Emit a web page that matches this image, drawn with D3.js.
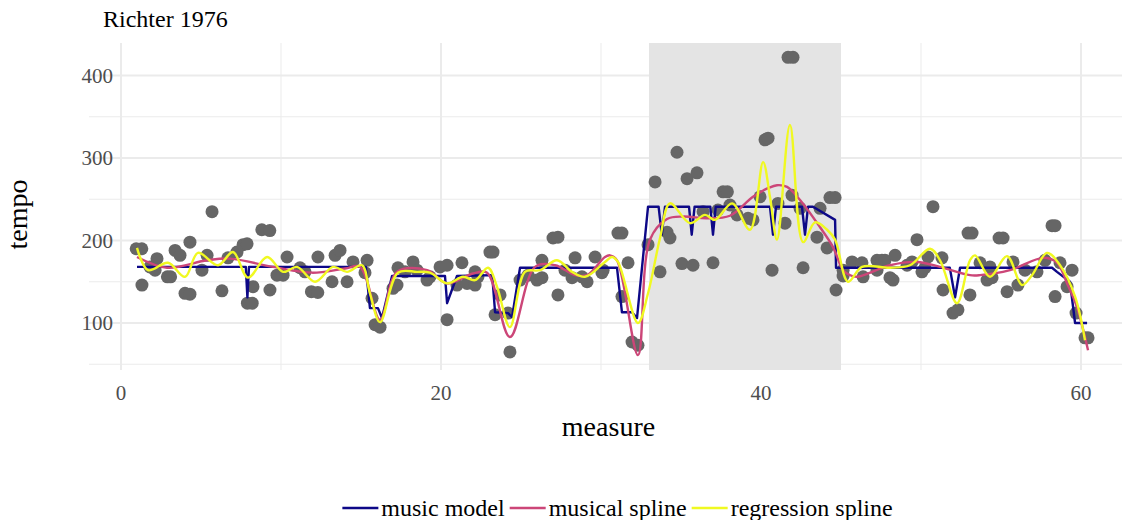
<!DOCTYPE html>
<html>
<head>
<meta charset="utf-8">
<script src="https://cdn.jsdelivr.net/npm/d3@7"></script>
<style>
  html, body { margin: 0; padding: 0; background: #fff; }
  svg { display: block; font-family: "Liberation Serif", "DejaVu Serif", serif; }
</style>
</head>
<body>
<svg id="chart" width="1122" height="520"></svg>
<script>
// Observed tempo per note (measure position, beats per minute)
const noteMeasure = [0.95, 1.3, 1.31, 1.81, 2.13, 2.25, 2.9, 3.1, 3.38, 3.69, 4.0, 4.31, 4.31, 5.06, 5.38, 5.69, 6.31, 6.69,
  7.25, 7.63, 7.88, 7.9, 8.2, 8.25, 8.8, 9.3, 9.31, 9.75, 10.13, 10.38, 11.19, 11.5, 11.9, 12.3, 12.31, 13.19, 13.38, 13.69, 14.13, 14.5,
  15.25, 15.38, 15.69, 15.88, 16.19, 17.0, 17.25, 17.31, 17.75, 18.25, 18.5, 19.13, 19.31, 19.94, 20.38, 20.38, 21.0, 21.31, 21.63, 22.13,
  22.13, 22.31, 23.06, 23.25, 23.38, 23.69, 24.19, 24.31, 24.94, 25.44, 26.0, 26.31, 26.31, 27.0, 27.31, 27.31, 27.75, 28.19, 28.38, 28.81,
  29.13, 29.63, 30.06, 30.13, 31.06, 31.31, 31.31, 31.69, 31.94, 32.31, 32.94, 33.38, 33.69, 34.13, 34.31, 34.75, 35.06, 35.38, 35.75, 36.0,
  36.38, 37.0, 37.31, 37.63, 37.9, 38.06, 38.5, 39.19, 39.5, 39.94, 40.25, 40.44, 40.69, 41.06, 41.5, 41.69, 41.94, 42.0, 42.44, 42.63,
  43.5, 43.69, 44.13, 44.31, 44.63, 44.69, 45.13, 45.13, 45.69, 46.31, 46.38, 47.25, 47.25, 47.56, 47.75, 48.06, 48.25, 48.38, 49.13, 49.44,
  49.75, 50.06, 50.25, 50.44, 50.75, 51.31, 51.38, 52.0, 52.31, 52.94, 53.06, 53.19, 53.69, 54.13, 54.31, 54.44, 54.88, 55.13, 55.38, 55.75,
  56.06, 56.5, 57.25, 57.75, 58.19, 58.38, 58.38, 58.69, 59.13, 59.44, 59.69, 60.25, 60.44];
const noteTempo = [190, 190, 146, 168, 164, 178, 156, 156, 188, 182, 136, 198, 135, 164, 182, 235, 139, 179,
  186, 195, 196, 124, 124, 144, 213, 212, 140, 158, 158, 180, 167, 162, 138, 137, 180, 150, 182, 188, 150, 174,
  161, 176, 130, 98, 95, 142, 146, 167, 162, 174, 164, 152, 156, 168, 170, 104, 146, 173, 148, 162,
  146, 156, 186, 186, 110, 134, 112, 65, 152, 158, 152, 155, 176, 203, 204, 134, 164, 155, 179, 156,
  150, 180, 161, 164, 209, 209, 132, 173, 77, 73, 195, 271, 162, 210, 203, 307, 172, 275, 170, 282,
  235, 173, 237, 259, 259, 243, 231, 227, 225, 253, 322, 324, 164, 245, 221, 422, 255, 422, 239, 167,
  204, 239, 191, 252, 252, 140, 164, 157, 174, 173, 156, 176, 164, 176, 176, 155, 152, 182, 170, 174,
  201, 162, 167, 180, 241, 179, 140, 112, 116, 209, 134, 209, 173, 152, 168, 155, 203, 203, 138, 174,
  146, 164, 162, 176, 218, 218, 132, 173, 144, 164, 112, 82, 82];

// Music model fit
const modelMeasure = [1, 7.8, 7.9, 8.0, 15.3, 15.56, 16.06, 16.31, 16.94, 20.25, 20.38, 21.0, 23.2, 23.38, 24.19, 24.44, 24.94, 31.0,
  31.31, 31.94, 32.25, 32.94, 33.6, 33.8, 34.0, 35.5, 35.67, 35.85, 36.83, 37.0, 37.17, 40.56, 40.75, 40.94, 42.56, 42.75, 42.94, 43.25,
  44.63, 44.69, 51.8, 52.13, 52.44, 58.19, 58.5, 59.31, 59.63, 60.38];
const modelTempo = [168, 168, 131, 168, 168, 118, 118, 106, 157, 157, 124, 157, 158, 113, 112, 107, 167, 167,
  113, 113, 106, 241, 241, 207, 241, 241, 207, 241, 241, 207, 241, 241, 207, 241, 241, 207, 241, 241,
  225, 167, 167, 131, 167, 167, 162, 150, 100, 100];

// Musical spline fit
const musicalMeasure = [1, 2.88, 5.38, 6.81, 9.5, 11.94, 14.0, 14.94, 16.19, 17.25, 19.13, 20.38, 22.0, 22.88, 24.31, 25.88, 27.13,
  28.38, 29.13, 30.25, 30.56, 31.0, 32.31, 33.06, 34.13, 35.13, 36.63, 38.06, 39.5, 40.5, 41.0, 41.63, 42.44, 43.69, 44.5, 45.13, 45.56,
  46.0, 48.06, 49.75, 51.19, 53.06, 53.69, 55.56, 57.63, 58.5, 59.13, 59.75, 60.44];
const musicalTempo = [180, 167, 176, 178, 168, 161, 166, 168, 104, 162, 164, 148, 160, 161, 83, 168, 170,
  158, 158, 180, 182, 176, 61, 201, 226, 229, 227, 230, 253, 264, 267, 265, 249, 216, 192, 164, 158,
  156, 170, 174, 168, 158, 158, 164, 179, 173, 148, 119, 67];

// Regression spline fit
const regressionMeasure = [1, 1.69, 2.94, 4.0, 4.81, 6.06, 7.0, 7.94, 9.13, 10.13, 11.0, 12.13, 13.25, 14.13, 15.06, 15.56, 16.19,
  17.31, 18.5, 19.31, 20.38, 21.38, 22.13, 22.94, 23.5, 24.31, 25.25, 26.19, 27.25, 28.19, 29.0, 30.25, 30.69, 31.06, 32.31, 32.94,
  33.69, 34.31, 35.56, 36.5, 37.13, 38.2, 39.31, 40.13, 40.56, 41.0, 41.81, 42.63, 43.38, 44.13, 44.63, 45.44, 46.31, 48.06, 49.31,
  50.56, 51.19, 52.25, 53.06, 53.38, 54.31, 55.38, 56.31, 56.94, 57.88, 58.69, 59.63, 60.25];
const regressionTempo = [191, 164, 173, 156, 185, 170, 186, 155, 180, 162, 168, 150, 168, 162, 170, 136, 101,
  161, 162, 161, 148, 156, 152, 167, 144, 95, 162, 164, 176, 162, 156, 174, 180, 174, 100, 136,
  203, 245, 221, 231, 225, 245, 213, 295, 253, 201, 340, 198, 222, 213, 201, 150, 168, 167, 170,
  190, 176, 124, 176, 182, 156, 181, 146, 158, 185, 170, 132, 79];

// Faster middle section
const sectionStart = 33;
const sectionEnd = 45;

const xTicks = [0, 20, 40, 60];
const xMinor = [10, 30, 50];
const yTicks = [100, 200, 300, 400];
const yMinor = [50, 150, 250, 350];

const seriesNames = ["music model", "musical spline", "regression spline"];
const seriesColors = ["#0D0887", "#CC4678", "#F0F921"];

const svg = d3.select("#chart");
const panel = { left: 89, right: 1122, top: 43, bottom: 370 };

const x = d3.scaleLinear().domain([0, 60]).range([121, 1081]);
const y = d3.scaleLinear().domain([100, 400]).range([323, 75.5]);

const grid = svg.append("g");
grid.selectAll("line.ymin").data(yMinor).join("line")
  .attr("x1", panel.left).attr("x2", panel.right)
  .attr("y1", d => y(d)).attr("y2", d => y(d))
  .attr("stroke", "#ebebeb").attr("stroke-width", 1);
grid.selectAll("line.xmin").data(xMinor).join("line")
  .attr("y1", panel.top).attr("y2", panel.bottom)
  .attr("x1", d => x(d)).attr("x2", d => x(d))
  .attr("stroke", "#ebebeb").attr("stroke-width", 1);
grid.selectAll("line.ymaj").data(yTicks).join("line")
  .attr("x1", panel.left).attr("x2", panel.right)
  .attr("y1", d => y(d)).attr("y2", d => y(d))
  .attr("stroke", "#ebebeb").attr("stroke-width", 2);
grid.selectAll("line.xmaj").data(xTicks).join("line")
  .attr("y1", panel.top).attr("y2", panel.bottom)
  .attr("x1", d => x(d)).attr("x2", d => x(d))
  .attr("stroke", "#ebebeb").attr("stroke-width", 2);

// shaded section
svg.append("rect")
  .attr("x", x(sectionStart)).attr("width", x(sectionEnd) - x(sectionStart))
  .attr("y", panel.top).attr("height", panel.bottom - panel.top)
  .attr("fill", "#e4e4e4");

// observed points
svg.append("g").selectAll("circle").data(noteMeasure).join("circle")
  .attr("cx", d => x(d))
  .attr("cy", (d, i) => y(noteTempo[i]))
  .attr("r", 6.5)
  .attr("fill", "#666666");

const modelLine = d3.line().x(d => x(d[0])).y(d => y(d[1]));
const smoothLine = d3.line().x(d => x(d[0])).y(d => y(d[1])).curve(d3.curveCatmullRom.alpha(0.5));

const fits = [
  { pts: d3.zip(modelMeasure, modelTempo), gen: modelLine },
  { pts: d3.zip(musicalMeasure, musicalTempo), gen: smoothLine },
  { pts: d3.zip(regressionMeasure, regressionTempo), gen: smoothLine }
];
fits.forEach((f, i) => {
  svg.append("path")
    .attr("d", f.gen(f.pts))
    .attr("fill", "none")
    .attr("stroke", seriesColors[i])
    .attr("stroke-width", 2.4)
    .attr("stroke-linejoin", "round");
});

// tick labels
svg.append("g").selectAll("text").data(xTicks).join("text")
  .attr("x", d => x(d)).attr("y", 400)
  .attr("text-anchor", "middle")
  .attr("font-size", 21).attr("fill", "#4d4d4d")
  .text(d => d);
svg.append("g").selectAll("text").data(yTicks).join("text")
  .attr("x", 113).attr("y", d => y(d)).attr("dy", "0.35em")
  .attr("text-anchor", "end")
  .attr("font-size", 21).attr("fill", "#4d4d4d")
  .text(d => d);

// axis titles
svg.append("text")
  .attr("x", (panel.left + panel.right) / 2 + 3).attr("y", 436)
  .attr("text-anchor", "middle").attr("font-size", 28).attr("fill", "#000")
  .text("measure");
svg.append("text")
  .attr("transform", `translate(27,${(panel.top + panel.bottom) / 2 + 8}) rotate(-90)`)
  .attr("text-anchor", "middle").attr("font-size", 28).attr("fill", "#000")
  .text("tempo");

// title
svg.append("text")
  .attr("x", 103).attr("y", 27)
  .attr("font-size", 24).attr("fill", "#000")
  .text("Richter 1976");

// legend, centred under the panel
const legend = svg.append("g");
const legendY = 508;
let cursor = 0;
seriesNames.forEach((name, i) => {
  const item = legend.append("g");
  item.append("line")
    .attr("x1", cursor).attr("x2", cursor + 36)
    .attr("y1", legendY).attr("y2", legendY)
    .attr("stroke", seriesColors[i]).attr("stroke-width", 2.4);
  const t = item.append("text")
    .attr("x", cursor + 39).attr("y", legendY).attr("dy", "0.33em")
    .attr("font-size", 24).attr("fill", "#000")
    .text(name);
  cursor += 39 + t.node().getComputedTextLength() + (i < seriesNames.length - 1 ? 5 : 0);
});
legend.attr("transform", `translate(${617.5 - cursor / 2},0)`);
</script>
</body>
</html>
